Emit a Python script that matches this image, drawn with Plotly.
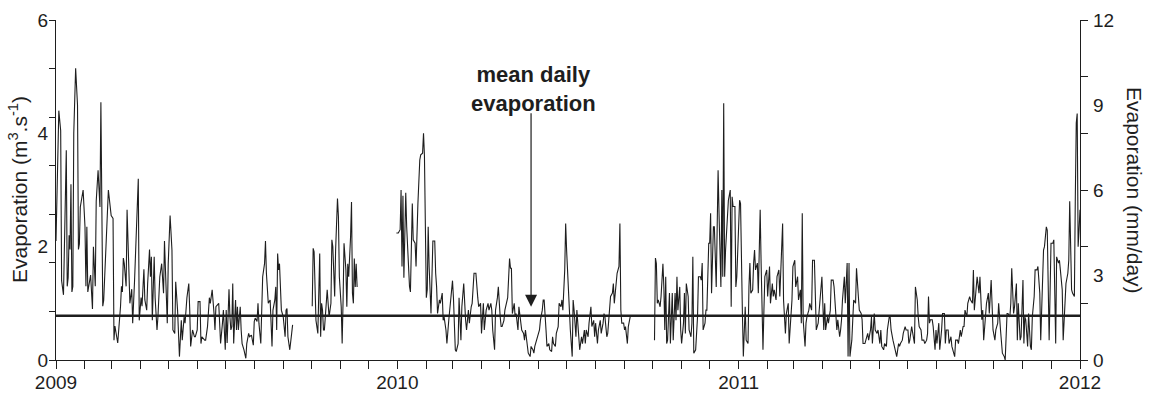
import datetime as dt
import plotly.graph_objects as go

START = dt.date(2009, 1, 1)

# daily evaporation (m3/s); day = days since 2009-01-01
# segment 1: Jan - Sep 2009
day_seg1 = [0, 3, 5, 6, 8, 11, 12, 13, 14, 15, 16, 17, 18, 19, 21, 23, 24, 25, 26, 29, 31, 32, 33, 34, 37, 38, 39, 40,
            42, 43, 45, 47, 48, 50, 51, 56, 59, 61, 62, 63, 66, 69, 70, 71, 72, 73, 75, 76, 79, 81, 82, 84, 87,
            88, 89, 91, 92, 94, 95, 97, 98, 100, 101, 102, 103, 105, 106, 108, 109, 111, 113, 115, 116, 118, 119,
            120, 122, 124, 125, 127, 128, 130, 132, 134, 135, 137, 138, 140, 142, 143, 144, 146, 148, 149, 151,
            152, 154, 155, 156, 159, 160, 162, 164, 165, 167, 169, 170, 171, 174, 175, 176, 178, 179, 181, 182,
            183, 185, 186, 187, 188, 189, 190, 192, 193, 194, 195, 197, 198, 199, 201, 203, 204, 206, 207, 209,
            211, 212, 213, 215, 216, 217, 219, 220, 221, 223, 224, 225, 226, 227, 229, 230, 231, 232, 234, 235,
            236, 237, 238, 239, 240, 241, 243, 245, 246, 247, 248, 250, 252, 253]
evap_seg1 = [2.1, 4.4, 4.05, 1.4, 1.15, 3.7, 1.3, 1.45, 2.2, 1.95, 3.1, 1.2, 1.3, 4.0, 5.15, 4.5, 1.95, 2.05, 2.7, 3.0,
             2.35, 1.3, 2.35, 1.2, 1.5, 1.05, 0.9, 2.0, 1.3, 2.8, 3.35, 2.7, 4.55, 0.95, 1.05, 3.0, 2.55, 2.5, 0.35,
             0.6, 0.3, 0.95, 1.3, 1.2, 1.8, 1.7, 1.3, 2.65, 1.0, 1.25, 0.65, 1.4, 3.0,
             3.2, 0.7, 1.1, 0.95, 1.6, 1.06, 0.88, 1.35, 1.95, 1.47, 1.82, 0.7, 1.82, 1.1, 0.53, 0.76, 1.47, 1.7,
             1.18, 2.1, 1.1, 0.65, 1.7, 2.55, 1.94, 0.53, 0.47, 1.38, 0.88, 0.06, 0.7, 0.35, 0.76, 0.65, 1.1, 1.35,
             0.88, 0.24, 0.53, 0.41, 0.41, 0.53, 1.03, 1.03, 0.29, 0.41, 0.35, 0.35, 0.59, 1.1, 1.0, 1.24, 0.82,
             0.53, 0.94, 1.0, 0.65, 0.29, 0.65, 0.88, 0.18, 0.88,
             0.3, 1.25, 0.76, 0.53, 0.59, 1.35, 0.29, 1.06, 0.53, 0.94, 0.53, 0.94, 0.53, 0.29, 0.18, 0.03, 0.29,
             0.47, 0.41, 0.44, 0.26, 0.68, 0.74, 0.68, 1.0, 0.65, 0.29, 1.1, 1.47, 1.7, 2.1, 1.53, 1.18, 1.0, 1.06,
             0.76, 0.24, 0.88, 1.06, 1.29, 0.53, 1.88, 1.59, 1.7, 1.24, 0.88, 0.76, 0.41, 0.88, 0.91, 0.41, 0.18,
             0.47, 0.62]

# segment 2: Oct - Nov 2009
day_seg2 = [274, 275, 276, 277, 278, 280, 281, 282, 283, 284, 285, 286, 287, 289, 290, 291, 292, 294, 295, 296, 298,
            299, 301, 302, 303, 305, 306, 307, 308, 310, 311, 312, 313, 315, 316, 317, 318, 319, 320, 321, 322]
evap_seg2 = [0.95, 1.97, 1.91, 1.18, 0.7, 0.47, 1.18, 1.88, 0.41, 1.0, 0.88, 0.53, 0.53, 0.94, 1.24, 1.0, 0.76, 1.0,
             2.12, 2.0, 1.12, 1.94, 2.85, 2.53, 1.47, 0.94, 0.29, 1.06, 2.06, 1.59, 0.94, 1.7, 1.47, 2.18, 2.79,
             1.18, 1.0, 1.79, 1.29, 1.7, 1.29]

# segment 3: Jan - Sep 2010
day_seg3 = [364, 366, 368, 369, 370, 371, 372, 374, 375, 377, 378, 379, 380, 381, 382, 384, 385, 386, 387, 389, 390,
            392, 393, 394, 395, 396, 397, 398, 399, 400, 401, 403, 405, 406, 407, 408, 410, 411, 413, 414, 415, 417,
            418, 420, 421, 423, 424, 425, 427, 428, 430, 431, 433, 434, 435, 436, 438, 439, 441, 442, 444, 445, 447,
            449, 451, 452, 454, 455, 457, 458, 460, 462, 463,
            465, 466, 467, 469, 470, 472, 473, 475, 476, 477, 479, 480, 482, 483, 485, 486, 487, 488, 490, 491, 492,
            494, 495, 497, 498, 500, 501, 502, 504, 505, 507, 508, 510, 511, 512, 514, 515, 517, 518, 520, 521, 522,
            524, 525, 527, 528, 530, 531, 532, 534, 535, 537, 538, 540, 541, 542, 544, 545, 546, 547, 549, 550, 552,
            553, 554, 556, 557,
            559, 560, 562, 563, 565, 566, 567, 569, 570, 572, 573, 575, 576, 577, 579, 580, 582, 583, 585, 586, 587,
            589, 590, 592, 593, 595, 596, 597, 599, 600, 602, 603, 604, 605, 607, 608, 609, 611, 612, 614]
evap_seg3 = [2.24, 2.24, 2.3, 3.0, 1.65, 2.9, 1.45, 2.95, 2.35, 1.6, 1.3, 1.2, 2.05, 2.76, 2.12, 2.06, 1.65, 2.24,
             2.76, 3.53, 3.62, 3.65, 4.0, 3.6, 2.35, 1.1, 1.24, 2.35, 1.65, 1.29, 0.82, 2.1, 2.1, 1.53, 1.29, 0.82,
             1.06, 1.0, 1.18, 0.7, 0.76, 0.53, 0.29, 0.7, 0.88, 1.1, 1.4, 1.1, 0.18, 0.15, 0.29, 1.1, 0.35, 0.94,
             1.1, 1.35, 0.7, 0.53, 0.88, 0.65, 0.94, 1.0, 1.53, 1.53, 1.1, 0.94, 1.0, 0.47, 1.0, 0.53, 0.88, 1.0,
             0.88,
             1.0, 0.88, 0.53, 0.18, 0.88, 1.1, 1.29, 0.76, 0.59, 0.59, 0.7, 0.88, 1.0, 1.1, 1.79, 1.62, 1.62, 0.82,
             1.0, 0.76, 0.82, 0.53, 0.94, 0.7, 0.53, 0.47, 0.35, 0.53, 0.29, 0.12, 0.06, 0.24, 0.18, 0.12, 0.24,
             0.35, 0.41, 0.53, 0.7, 0.88, 1.06, 1.06, 0.53, 0.24, 0.29, 0.18, 0.15, 0.41, 0.29, 0.24, 0.47, 0.59,
             1.0, 0.94, 1.06, 0.88, 1.59, 2.41, 1.94, 1.53, 0.76, 0.53, 0.06, 1.06, 0.88, 0.41, 0.88,
             0.35, 0.18, 0.41, 0.29, 0.53, 0.29, 0.53, 0.41, 0.65, 0.94, 0.59, 0.7, 0.41, 0.65, 0.29, 0.53, 0.7,
             0.47, 0.65, 0.82, 0.76, 0.41, 0.47, 1.06, 1.12, 1.18, 1.35, 1.0, 1.29, 1.53, 1.65, 2.41, 0.88, 0.65,
             0.65, 0.53, 0.59, 0.29, 0.59, 0.76]

# segment 4: Oct 2010 - Dec 2011
day_seg4 = [640, 641, 642, 643, 644, 646, 647, 649, 650, 651, 652, 653, 654, 656, 657, 659, 660, 662, 663, 664, 665,
            667, 668, 669, 671, 672, 673, 674, 676, 677, 679, 680, 681, 682, 684, 686, 687, 689, 690, 691, 692, 694,
            695, 696, 698, 699, 700, 701, 703, 704, 706, 707, 708, 709, 711, 712, 713, 714, 715, 716, 718, 719, 721,
            722, 723, 724, 726, 727, 728, 729, 731, 732, 733, 734, 735, 736, 737, 738, 740, 741, 742, 743, 745, 746,
            747, 748, 750, 751, 753, 754, 756, 757, 758, 760, 761, 763, 764, 766, 767, 768, 770, 771, 773, 774, 776,
            777, 778, 780, 781, 783, 784, 786, 787, 788, 790, 791, 793, 794, 796, 797, 798, 799, 801, 802, 803, 805,
            806, 808, 809, 811, 812, 813, 815, 816, 818, 819, 821, 822, 823, 825, 826, 828, 829, 831, 832, 833, 835,
            836, 838, 839, 840,
            841, 843, 844, 846, 847, 848, 849, 851, 852, 853, 855, 856, 858, 859, 861, 862, 863, 865, 866, 868, 869,
            871, 872, 873, 875, 876, 878, 879, 881, 882, 883, 885, 886, 888, 889, 891, 892, 893, 895, 896, 898, 899,
            901, 902, 903, 905, 906, 908, 909, 911, 912, 913, 915, 916, 918, 919, 921, 922, 923, 925, 926, 928, 929,
            931, 932, 933, 934,
            935, 937, 938, 940, 941, 942, 944, 945, 947, 948, 950, 951, 952, 954, 955, 957, 958, 960, 961, 962, 964,
            965, 967, 968, 970, 971, 972, 974, 975, 977, 978, 980, 981, 982, 984, 985, 987, 988, 990, 991, 992, 994,
            995, 997, 998, 1000, 1001, 1002, 1004, 1005, 1007, 1008, 1010, 1011, 1012, 1014, 1015, 1017, 1018, 1020,
            1021, 1022, 1024, 1025, 1027, 1028, 1029,
            1031, 1032, 1034, 1035, 1036, 1037, 1039, 1040, 1042, 1043, 1044, 1046, 1047, 1049, 1050, 1052, 1053,
            1054, 1056, 1057, 1059, 1060, 1062, 1063, 1064, 1066, 1067, 1069, 1070, 1072, 1073, 1074, 1076, 1077,
            1079, 1080, 1082, 1083, 1084, 1086, 1087, 1089, 1090, 1091, 1092, 1093, 1094, 1095]
evap_seg4 = [0.35, 1.8, 1.7, 1.0, 1.06, 0.94, 1.12, 1.7, 1.29, 0.53, 1.47, 0.29, 0.35, 1.18, 0.29, 1.18, 0.35, 1.18,
             0.7, 1.47, 0.88, 1.29, 0.53, 0.29, 0.65, 1.18, 0.47, 1.35, 1.12, 0.53, 0.41, 0.65, 1.82, 0.12, 0.18,
             0.76, 1.47, 1.47, 1.41, 1.71, 0.53, 0.65, 0.88, 0.88, 2.06, 2.06, 2.59, 1.18, 2.35, 2.35, 1.29, 2.71,
             3.35, 2.59, 1.29, 3.0, 1.47, 4.53, 1.47, 1.94, 2.65, 2.82, 3.0, 0.94, 2.88, 2.71, 2.71, 1.29, 1.47,
             2.06, 2.82, 2.76, 1.35, 0.82, 0.06, 0.65, 0.94, 0.35, 0.29, 1.29, 1.71, 1.18, 1.24, 1.71,
             1.94, 1.59, 1.71, 1.18, 2.65, 1.71, 0.18, 0.88, 1.47, 1.59, 1.12, 1.65, 1.0, 1.35, 1.12, 1.24, 1.06,
             1.47, 1.59, 1.12, 2.06, 2.41, 1.06, 0.47, 0.82, 1.0, 0.29, 0.82, 1.06, 1.65, 1.76, 1.29, 1.47, 1.06,
             1.24, 0.65, 2.59, 0.7, 0.24, 0.65, 0.76, 0.88, 1.0, 0.88, 1.76, 1.76, 1.12, 0.53, 0.65, 0.88, 1.18,
             1.47, 0.53, 1.0, 0.53, 0.76, 0.65, 0.88, 1.41, 1.41, 1.29, 1.0, 0.53, 0.71, 0.41, 0.53, 0.71,
             1.06, 1.47, 1.0, 1.71, 0.06, 1.71, 0.06, 0.35, 0.71, 1.06, 1.0, 1.62, 1.12, 0.88, 0.82, 0.71, 0.29,
             0.29, 0.35, 0.47, 0.35, 0.53, 0.76, 0.29, 0.82, 0.53, 0.47, 0.53, 0.29, 0.53, 0.24, 0.18, 0.29, 0.24,
             0.53, 0.76, 0.76, 0.53, 0.35, 0.29, 0.12, 0.06, 0.29, 0.24, 0.29, 0.35, 0.47, 0.59, 0.53, 0.53, 0.29,
             0.35, 0.59, 0.47, 0.29, 1.29, 1.06, 0.76, 0.59, 0.53, 0.35, 0.35, 0.29, 0.35, 0.47, 1.12, 0.65,
             0.71, 0.71, 0.59, 0.18, 0.53, 0.29, 0.65, 0.18, 0.53, 0.82, 0.82, 0.29, 0.53, 0.53, 0.29, 0.41, 0.24,
             0.12, 0.06, 0.35, 0.35, 0.29, 0.53, 0.41, 0.59, 0.59, 0.88, 0.76, 1.0, 1.12, 1.06, 1.0, 1.59, 0.88,
             1.35, 1.47, 1.18, 1.47, 0.71, 0.88, 0.35, 0.76, 1.0, 1.18, 0.82, 1.41, 0.88, 0.53, 0.35, 0.53, 0.65,
             1.0, 0.53, 0.24, 0.12, 0.06, 0.0, 0.82, 0.82, 0.76, 1.0, 1.62, 0.82, 0.94, 1.35, 0.35, 1.0,
             0.35, 0.41, 1.41, 0.29, 0.76, 0.71, 0.24, 0.82, 0.24, 0.18, 0.76, 1.12, 1.59, 1.59, 1.65, 1.18, 0.35,
             1.06, 1.94, 2.0, 2.35, 2.29, 0.35, 1.18, 2.06, 2.06, 2.12, 0.29, 1.82, 1.71, 1.76, 1.59, 1.24, 0.35,
             1.0, 1.35, 1.53, 1.76, 2.8, 1.24, 1.18, 1.12, 2.88, 4.18, 4.35, 2.0, 2.29, 2.65]

mean_evap = 0.78  # mean daily evaporation (m3/s)

year_ticks = ["2009-01-01", "2010-01-01", "2011-01-01", "2012-01-01"]
year_labels = ["2009", "2010", "2011", "2012"]
left_labels = [0, 2, 4, 6]
left_marks = [i * 6 / 7 for i in range(8)]
right_labels = [0, 3, 6, 9, 12]
right_marks = [0, 2, 4, 6, 8, 10, 12]

INK = "#1e1e1e"
FONT = "Liberation Sans, Arial, sans-serif"

# join segments, leaving gaps between them
x, y = [], []
for days, vals in [(day_seg1, evap_seg1), (day_seg2, evap_seg2), (day_seg3, evap_seg3), (day_seg4, evap_seg4)]:
    x += [START + dt.timedelta(days=d) for d in days] + [None]
    y += vals + [None]

fig = go.Figure()
fig.add_trace(go.Scatter(x=x, y=y, mode="lines", line=dict(color=INK, width=1.1),
                         connectgaps=False, showlegend=False, name="Evaporation"))
# empty traces so the extra axes are drawn
for ax in ["y2", "y3", "y4"]:
    fig.add_trace(go.Scatter(x=[START], y=[None], yaxis=ax, showlegend=False, hoverinfo="skip"))

# mean line
fig.add_shape(type="line", xref="paper", x0=0, x1=1, yref="y", y0=mean_evap, y1=mean_evap,
              line=dict(color=INK, width=2.5))

common = dict(showgrid=False, zeroline=False, fixedrange=True, automargin=False)
fig.update_layout(
    width=1151, height=394,
    margin=dict(l=56, r=71, t=20, b=34),
    plot_bgcolor="white", paper_bgcolor="white",
    font=dict(family=FONT, size=19, color=INK),
    xaxis=dict(type="date", range=[START, dt.date(2012, 1, 1)],
               tickvals=year_ticks, ticktext=year_labels,
               ticks="outside", ticklen=8, tickwidth=1.2, tickcolor=INK, ticklabelstandoff=-3,
               showline=True, linecolor=INK, linewidth=1.2,
               minor=dict(dtick="M1", ticks="outside", ticklen=8, tickwidth=1.2, tickcolor=INK, showgrid=False),
               **common),
    yaxis=dict(range=[0, 6], tickvals=left_marks, showticklabels=False,
               ticks="outside", ticklen=6, tickwidth=1.2, tickcolor=INK,
               showline=True, linecolor=INK, linewidth=1.2, **common),
    yaxis3=dict(range=[0, 6], overlaying="y", side="left", tickvals=left_labels,
                ticks="", showline=False, ticklabelstandoff=7, **common),
    yaxis2=dict(range=[0, 12], overlaying="y", side="right", tickvals=right_marks, showticklabels=False,
                ticks="outside", ticklen=7, tickwidth=1.2, tickcolor=INK,
                showline=True, linecolor=INK, linewidth=1.2, **common),
    yaxis4=dict(range=[0, 12], overlaying="y", side="right", tickvals=right_labels,
                ticks="", showline=False, ticklabelstandoff=12, **common),
)

# axis titles
fig.add_annotation(xref="paper", yref="paper", x=0, y=0.5, xshift=-38, xanchor="center", yanchor="middle",
                   textangle=-90, text="Evaporation (m<sup>3</sup>.s<sup>-1</sup>)", showarrow=False,
                   font=dict(size=21, color=INK))
fig.add_annotation(xref="paper", yref="paper", x=1, y=0.5, xshift=55, xanchor="center", yanchor="middle",
                   textangle=90, text="Evaporation (mm/day)", showarrow=False, font=dict(size=21, color=INK))

# mean daily evaporation label + arrow
label_day = START + dt.timedelta(days=511)
arrow_day = START + dt.timedelta(days=508)
fig.add_annotation(x=label_day, y=4.78, text="<b>mean daily<br>evaporation</b>", showarrow=False,
                   font=dict(size=22, color=INK), align="center")
fig.add_annotation(x=arrow_day, y=0.94, ax=arrow_day, ay=4.38, axref="x", ayref="y", text="",
                   showarrow=True, arrowhead=2, arrowsize=2.0, arrowwidth=1.2, arrowcolor=INK)

# page body has a default margin; remove it so the figure sits at the window origin
fig.write_html("out.html", config={"displayModeBar": False},
               post_script="document.body.style.margin='0';")
